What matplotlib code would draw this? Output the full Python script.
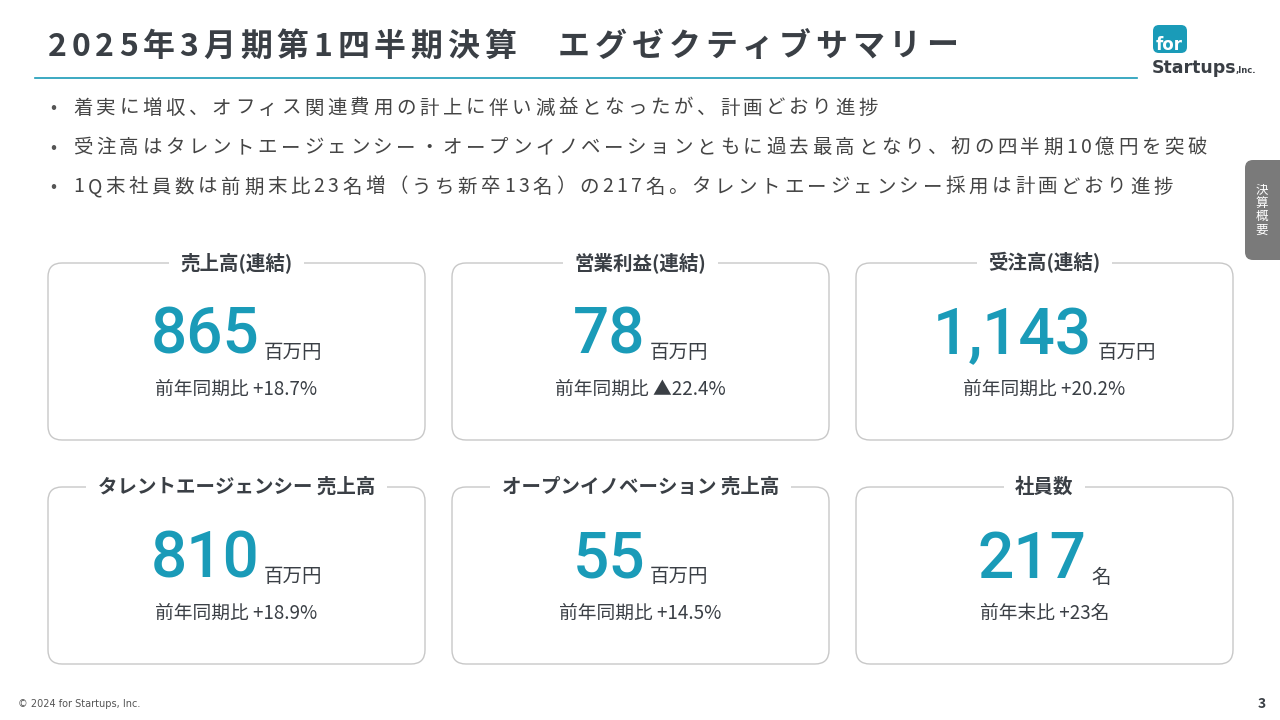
import matplotlib
matplotlib.use("Agg")
import matplotlib.pyplot as plt
from matplotlib.patches import FancyBboxPatch

plt.rcParams['font.family'] = ['Noto Sans CJK JP', 'DejaVu Sans']

TEAL = '#1a9bb8'
DARK = '#3a3f45'

title = '2025年3月期第1四半期決算　エグゼクティブサマリー'
bullets = [
    '着実に増収、オフィス関連費用の計上に伴い減益となったが、計画どおり進捗',
    '受注高はタレントエージェンシー・オープンイノベーションともに過去最高となり、初の四半期10億円を突破',
    '1Q末社員数は前期末比23名増（うち新卒13名）の217名。タレントエージェンシー採用は計画どおり進捗',
]
card_titles = ['売上高(連結)', '営業利益(連結)', '受注高(連結)',
               'タレントエージェンシー 売上高', 'オープンイノベーション 売上高', '社員数']
card_values = ['865', '78', '1,143', '810', '55', '217']
card_units = ['百万円', '百万円', '百万円', '百万円', '百万円', '名']
card_notes = ['前年同期比 +18.7%', '前年同期比 ▲22.4%', '前年同期比 +20.2%',
              '前年同期比 +18.9%', '前年同期比 +14.5%', '前年末比 +23名']

fig = plt.figure(figsize=(12.8, 7.2), dpi=100)
ax = fig.add_axes([0, 0, 1, 1])
ax.set_xlim(0, 1280)
ax.set_ylim(720, 0)
ax.axis('off')
renderer = fig.canvas.get_renderer()


def tracked_text(x, y, s, tracking, **kw):
    # draw char by char to mimic the slide's letter spacing
    for ch in s:
        t = ax.text(x, y, ch, ha='left', va='center', **kw)
        x += t.get_window_extent(renderer).width + tracking
    return x


# header
tracked_text(48, 47, title, 4.8, fontsize=23, fontweight='bold', color=DARK)
ax.plot([35, 1137], [78, 78], color=TEAL, lw=1.2)

# logo
ax.add_patch(FancyBboxPatch((1153, 25), 34, 28, boxstyle='round,pad=0,rounding_size=6',
                            fc=TEAL, ec='none'))
ax.text(1156, 45, 'for', fontsize=12, fontweight='bold', color='white', va='center',
        family='DejaVu Sans')
ax.text(1152, 68, 'Startups', fontsize=12.5, fontweight='bold', color=DARK, va='center',
        family='DejaVu Sans')
ax.text(1236, 71, ',Inc.', fontsize=6, fontweight='bold', color=DARK, va='center',
        family='DejaVu Sans')

# side tab
ax.add_patch(FancyBboxPatch((1245, 160), 50, 100, boxstyle='round,pad=0,rounding_size=8',
                            fc='#7a7a7a', ec='none'))
ax.text(1262, 210, '決\n算\n概\n要', fontsize=9, color='white', ha='center', va='center',
        linespacing=1.05)

# bullets
for i, b in enumerate(bullets):
    y = 108 + i * 39.5
    ax.text(50, y, '•', fontsize=13, color='#555555', va='center')
    tracked_text(73, y, b, 3.6, fontsize=14, color='#444444')

# cards
col_x = [48, 452, 856]
row_y = [263, 487]
w, h = 377, 177
for i in range(6):
    x0 = col_x[i % 3]
    y0 = row_y[i // 3]
    cx = x0 + w / 2
    ax.add_patch(FancyBboxPatch((x0, y0), w, h, boxstyle='round,pad=0,rounding_size=14',
                                fc='white', ec='#c8c8c8', lw=1.0))
    ax.text(cx, y0, card_titles[i], fontsize=14, fontweight='bold', color=DARK,
            ha='center', va='center',
            bbox=dict(boxstyle='square,pad=0.6', fc='white', ec='none'))
    num = ax.text(0, y0 + 73, card_values[i], fontsize=46, fontweight='medium', color=TEAL,
                  ha='left', va='center', family='Roboto')
    unit = ax.text(0, y0 + 90, card_units[i], fontsize=14, color=DARK, ha='left', va='center')
    nw = num.get_window_extent(renderer).width
    uw = unit.get_window_extent(renderer).width
    gap = 5
    start = cx - (nw + gap + uw) / 2
    num.set_x(start)
    unit.set_x(start + nw + gap)
    ax.text(cx, y0 + 126, card_notes[i], fontsize=13.5, color=DARK, ha='center', va='center')

# footer
ax.text(18, 704, '© 2024 for Startups, Inc.', fontsize=7, color='#555555', va='center',
        family='DejaVu Sans')
ax.text(1258, 704, '3', fontsize=10, fontweight='bold', color=DARK, va='center')

fig.savefig('out.png', dpi=100)
